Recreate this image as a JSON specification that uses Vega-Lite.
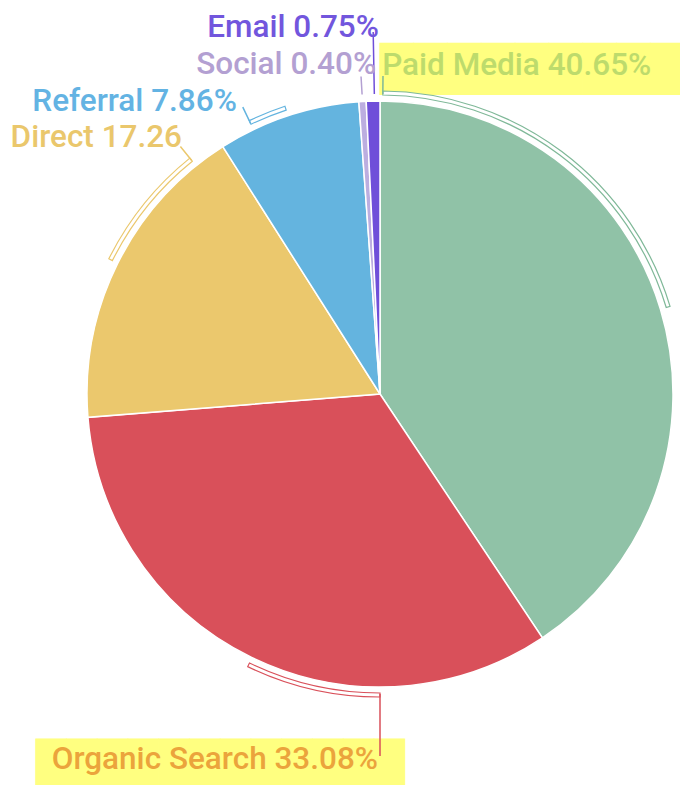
{
  "$schema": "https://vega.github.io/schema/vega-lite/v6.json",
  "width": 600,
  "height": 780,
  "autosize": {"type": "none"},
  "padding": {"left": 80, "top": 4, "right": 0, "bottom": 1},
  "background": "white",
  "config": {"view": {"stroke": null}},
  "datasets": {
    "share": [
      {"category": "Paid Media", "value": 40.65, "order": 1, "label": "Paid Media 40.65%"},
      {"category": "Organic Search", "value": 33.08, "order": 2, "label": "Organic Search 33.08%"},
      {"category": "Direct", "value": 17.26, "order": 3, "label": "Direct 17.26"},
      {"category": "Referral", "value": 7.86, "order": 4, "label": "Referral 7.86%"},
      {"category": "Social", "value": 0.40, "order": 5, "label": "Social 0.40%"},
      {"category": "Email", "value": 0.75, "order": 6, "label": "Email 0.75%"}
    ],
    "brackets": [
      {"category": "Paid Media", "from": 0.15, "to": 20.33},
      {"category": "Organic Search", "from": 50, "to": 57.19},
      {"category": "Direct", "from": 82.36, "to": 89.2},
      {"category": "Referral", "from": 92.9, "to": 94.92}
    ],
    "leaders": [
      {"category": "Paid Media", "at": 0.15},
      {"category": "Organic Search", "at": 50},
      {"category": "Direct", "at": 89.2},
      {"category": "Referral", "at": 92.9},
      {"category": "Social", "at": 99.05},
      {"category": "Email", "at": 99.7}
    ]
  },
  "layer": [
    {
      "data": {"name": "share"},
      "mark": {"type": "text", "radius": 300, "align": "left", "baseline": "alphabetic", "dx": -287, "dy": -223, "font": "DejaVu Sans", "fontSize": 44, "fill": "#ffff80"},
      "encoding": {
        "theta": {"field": "value", "type": "quantitative", "stack": true, "scale": {"domain": [0, 100]}},
        "detail": {"field": "category"},
        "order": {"field": "order", "type": "quantitative"},
        "text": {"condition": {"test": "datum.category === 'Paid Media'", "value": "█████████"}, "value": ""}
      }
    },
    {
      "data": {"name": "share"},
      "mark": {"type": "text", "radius": 300, "align": "right", "baseline": "alphabetic", "dx": 156, "dy": 112, "font": "DejaVu Sans", "fontSize": 40, "fill": "#ffff80"},
      "encoding": {
        "theta": {"field": "value", "type": "quantitative", "stack": true, "scale": {"domain": [0, 100]}},
        "detail": {"field": "category"},
        "order": {"field": "order", "type": "quantitative"},
        "text": {"condition": {"test": "datum.category === 'Organic Search'", "value": "████████████"}, "value": ""}
      }
    },
    {
      "data": {"name": "share"},
      "mark": {"type": "arc", "outerRadius": 293, "stroke": "white", "strokeWidth": 1.5},
      "encoding": {
        "theta": {"field": "value", "type": "quantitative", "stack": true, "scale": {"domain": [0, 100]}},
        "color": {
          "field": "category", "type": "nominal", "legend": null,
          "scale": {
            "domain": ["Paid Media", "Organic Search", "Direct", "Referral", "Social", "Email"],
            "range": ["#90c2a7", "#d9505a", "#ebc86d", "#64b4df", "#bcaee0", "#6f4fd9"]
          }
        },
        "order": {"field": "order", "type": "quantitative"}
      }
    },
    {
      "data": {"name": "brackets"},
      "mark": {"type": "arc", "radius": 303, "radius2": 299, "fill": "white", "strokeWidth": 1.2},
      "encoding": {
        "theta": {"field": "from", "type": "quantitative", "stack": null, "scale": {"domain": [0, 100]}},
        "theta2": {"field": "to"},
        "stroke": {
          "field": "category", "type": "nominal", "legend": null,
          "scale": {
            "domain": ["Paid Media", "Organic Search", "Direct", "Referral", "Social", "Email"],
            "range": ["#7fb898", "#d9505a", "#ebc86d", "#64b4df", "#b3a0d2", "#6f4fd9"]
          }
        }
      }
    },
    {
      "data": {"name": "leaders"},
      "transform": [{"filter": "datum.category === 'Organic Search' || datum.category === 'Email'"}],
      "mark": {"type": "arc", "radius": 362, "radius2": 300, "fillOpacity": 0, "strokeWidth": 1.5},
      "encoding": {
        "theta": {"field": "at", "type": "quantitative", "stack": null, "scale": {"domain": [0, 100]}},
        "theta2": {"field": "at"},
        "stroke": {"field": "category", "type": "nominal", "legend": null}
      }
    },
    {
      "data": {"name": "leaders"},
      "transform": [{"filter": "datum.category !== 'Organic Search' && datum.category !== 'Email'"}],
      "mark": {"type": "arc", "radius": 318, "radius2": 300, "fillOpacity": 0, "strokeWidth": 1.5},
      "encoding": {
        "theta": {"field": "at", "type": "quantitative", "stack": null, "scale": {"domain": [0, 100]}},
        "theta2": {"field": "at"},
        "stroke": {"field": "category", "type": "nominal", "legend": null}
      }
    },
    {
      "data": {"name": "share"},
      "mark": {"type": "text", "radius": 300, "align": "left", "baseline": "alphabetic", "dx": -285, "dy": -232, "font": "Roboto", "fontSize": 31.5, "fontWeight": 500, "fill": "#bddb6c"},
      "encoding": {
        "theta": {"field": "value", "type": "quantitative", "stack": true, "scale": {"domain": [0, 100]}},
        "detail": {"field": "category"},
        "order": {"field": "order", "type": "quantitative"},
        "text": {"condition": {"test": "datum.category === 'Paid Media'", "field": "label"}, "value": ""}
      }
    },
    {
      "data": {"name": "share"},
      "mark": {"type": "text", "radius": 300, "align": "right", "baseline": "alphabetic", "dx": 129, "dy": 105, "font": "Roboto", "fontSize": 31.5, "fontWeight": 500, "fill": "#eba43c"},
      "encoding": {
        "theta": {"field": "value", "type": "quantitative", "stack": true, "scale": {"domain": [0, 100]}},
        "detail": {"field": "category"},
        "order": {"field": "order", "type": "quantitative"},
        "text": {"condition": {"test": "datum.category === 'Organic Search'", "field": "label"}, "value": ""}
      }
    },
    {
      "data": {"name": "share"},
      "mark": {"type": "text", "radius": 300, "align": "right", "baseline": "alphabetic", "dx": 70.5, "dy": -113, "font": "Roboto", "fontSize": 31.5, "fontWeight": 500, "fill": "#eac76c"},
      "encoding": {
        "theta": {"field": "value", "type": "quantitative", "stack": true, "scale": {"domain": [0, 100]}},
        "detail": {"field": "category"},
        "order": {"field": "order", "type": "quantitative"},
        "text": {"condition": {"test": "datum.category === 'Direct'", "field": "label"}, "value": ""}
      }
    },
    {
      "data": {"name": "share"},
      "mark": {"type": "text", "radius": 300, "align": "right", "baseline": "alphabetic", "dx": -49, "dy": 2, "font": "Roboto", "fontSize": 31.5, "fontWeight": 500, "fill": "#63b3e3"},
      "encoding": {
        "theta": {"field": "value", "type": "quantitative", "stack": true, "scale": {"domain": [0, 100]}},
        "detail": {"field": "category"},
        "order": {"field": "order", "type": "quantitative"},
        "text": {"condition": {"test": "datum.category === 'Referral'", "field": "label"}, "value": ""}
      }
    },
    {
      "data": {"name": "share"},
      "mark": {"type": "text", "radius": 300, "align": "right", "baseline": "alphabetic", "dx": 14, "dy": -20.5, "font": "Roboto", "fontSize": 31.5, "fontWeight": 500, "fill": "#b3a0d2"},
      "encoding": {
        "theta": {"field": "value", "type": "quantitative", "stack": true, "scale": {"domain": [0, 100]}},
        "detail": {"field": "category"},
        "order": {"field": "order", "type": "quantitative"},
        "text": {"condition": {"test": "datum.category === 'Social'", "field": "label"}, "value": ""}
      }
    },
    {
      "data": {"name": "share"},
      "mark": {"type": "text", "radius": 300, "align": "right", "baseline": "alphabetic", "dx": 6, "dy": -57, "font": "Roboto", "fontSize": 31.5, "fontWeight": 500, "fill": "#7256dd"},
      "encoding": {
        "theta": {"field": "value", "type": "quantitative", "stack": true, "scale": {"domain": [0, 100]}},
        "detail": {"field": "category"},
        "order": {"field": "order", "type": "quantitative"},
        "text": {"condition": {"test": "datum.category === 'Email'", "field": "label"}, "value": ""}
      }
    }
  ]
}
